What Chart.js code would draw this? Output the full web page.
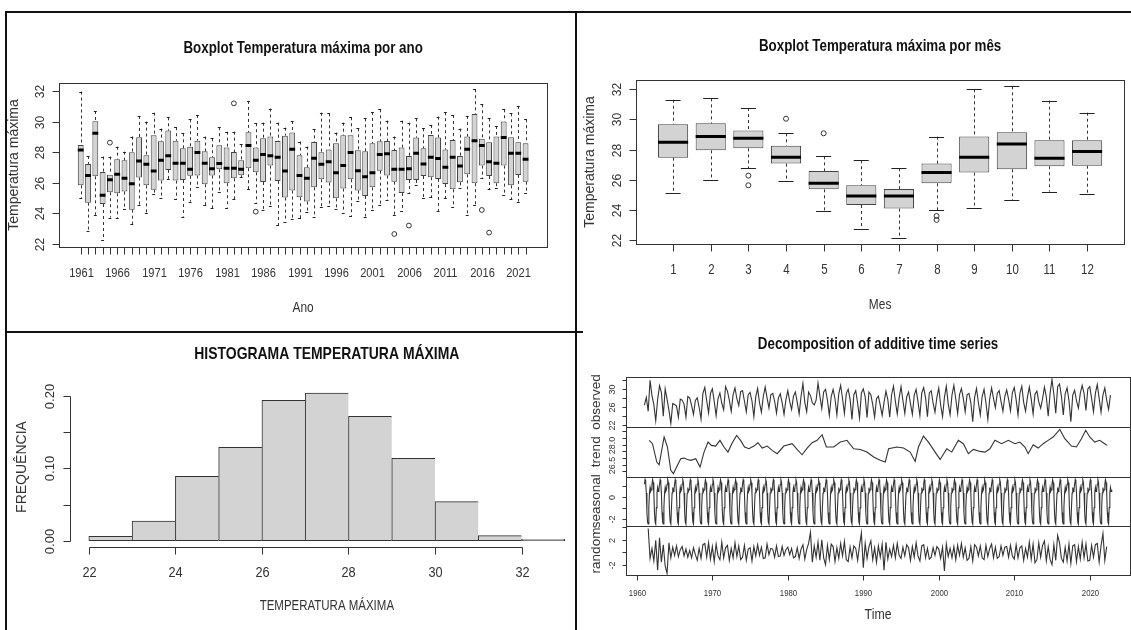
<!DOCTYPE html>
<html>
<head>
<meta charset="utf-8">
<script src="https://cdn.jsdelivr.net/npm/chart.js@4.4.1/dist/chart.umd.min.js"></script>
<style>
  html, body { margin: 0; padding: 0; background: #fff; width: 1131px; height: 630px; overflow: hidden; }
  canvas { position: absolute; }
  .rule { position: absolute; background: #111; z-index: 5; }
</style>
</head>
<body>
<canvas id="yearChart" width="576" height="332" style="left:0;top:0"></canvas>
<canvas id="monthChart" width="553" height="332" style="left:578px;top:0"></canvas>
<canvas id="histChart" width="600" height="298" style="left:0;top:332px"></canvas>
<canvas id="obsChart" width="560" height="298" style="left:578px;top:332px"></canvas>
<canvas id="trendChart" width="560" height="298" style="left:578px;top:332px"></canvas>
<canvas id="seasChart" width="560" height="298" style="left:578px;top:332px"></canvas>
<canvas id="randChart" width="560" height="298" style="left:578px;top:332px"></canvas>

<div class="rule" style="left:5px;top:11px;width:1126px;height:2px"></div>
<div class="rule" style="left:5px;top:11px;width:2px;height:619px"></div>
<div class="rule" style="left:575px;top:11px;width:2px;height:619px"></div>
<div class="rule" style="left:5px;top:331px;width:578px;height:2px"></div>

<script>
// ---- yearly boxplot (monthly max temperature by year) ----
const years = [1961, 1962, 1963, 1964, 1965, 1966, 1967, 1968, 1969, 1970,
  1971, 1972, 1973, 1974, 1975, 1976, 1977, 1978, 1979, 1980,
  1981, 1982, 1983, 1984, 1985, 1986, 1987, 1988, 1989, 1990,
  1991, 1992, 1993, 1994, 1995, 1996, 1997, 1998, 1999, 2000,
  2001, 2002, 2003, 2004, 2005, 2006, 2007, 2008, 2009, 2010,
  2011, 2012, 2013, 2014, 2015, 2016, 2017, 2018, 2019, 2020,
  2021, 2022];
const yearMax = [31.96, 27.75, 30.69, 27.71, 27.71, 28.36, 28.03, 29.02, 30.37, 30.00,
  30.58, 29.54, 30.28, 29.63, 29.23, 30.15, 30.43, 29.02, 28.91, 29.63,
  29.34, 29.34, 28.51, 31.35, 29.89, 29.93, 30.85, 29.93, 29.60, 30.04,
  28.69, 28.36, 29.49, 30.58, 30.54, 29.28, 29.93, 30.28, 29.56, 30.21,
  30.63, 30.80, 30.06, 29.02, 30.06, 29.93, 30.21, 29.56, 29.78, 30.32,
  30.61, 30.43, 29.54, 30.37, 32.11, 31.13, 30.21, 29.71, 30.80, 30.54,
  31.02, 30.15];
const yearQ3 = [28.47, 27.23, 30.02, 26.71, 26.53, 27.53, 27.47, 27.99, 28.97, 27.80,
  29.10, 28.71, 29.41, 28.75, 28.25, 28.36, 28.75, 28.06, 27.66, 28.45,
  28.30, 28.01, 27.47, 29.30, 28.30, 28.91, 29.02, 28.73, 29.08, 29.28,
  27.80, 27.01, 28.67, 27.99, 28.17, 28.58, 29.10, 29.10, 28.12, 28.06,
  28.58, 28.71, 28.73, 28.14, 28.30, 27.75, 28.95, 28.25, 29.12, 28.95,
  28.17, 28.80, 27.75, 29.02, 30.50, 28.88, 28.64, 29.02, 30.00, 28.97,
  28.64, 28.58];
const yearMedian = [28.14, 26.47, 29.23, 25.18, 26.20, 26.55, 26.29, 25.94, 27.42, 27.21,
  26.77, 27.47, 27.77, 27.27, 27.27, 26.88, 27.97, 27.27, 26.92, 27.25,
  26.95, 26.95, 26.88, 28.43, 27.47, 27.84, 27.77, 27.66, 26.77, 28.19,
  26.47, 26.29, 27.60, 27.21, 27.38, 26.66, 27.12, 27.97, 26.79, 26.40,
  26.66, 27.84, 27.90, 26.88, 26.88, 26.92, 27.93, 27.23, 27.66, 27.58,
  27.01, 27.66, 27.10, 28.19, 28.75, 28.43, 27.38, 27.27, 28.95, 27.93,
  27.93, 27.53];
const yearQ1 = [25.83, 24.70, 26.42, 24.61, 25.38, 25.31, 25.42, 24.24, 26.34, 25.83,
  25.55, 26.14, 26.84, 26.14, 26.18, 26.45, 26.47, 25.90, 26.47, 26.88,
  25.97, 26.29, 26.49, 26.95, 26.68, 26.05, 27.12, 26.12, 25.03, 25.49,
  25.05, 24.77, 25.70, 26.23, 26.01, 24.98, 25.62, 26.23, 25.49, 25.14,
  25.70, 26.79, 26.47, 26.07, 25.33, 26.18, 26.18, 26.44, 26.36, 26.25,
  25.92, 25.57, 26.03, 26.55, 25.97, 27.12, 26.44, 25.97, 27.12, 25.83,
  26.51, 26.07];
const yearMin = [24.98, 22.85, 23.90, 22.24, 23.72, 23.68, 24.31, 23.31, 24.55, 24.00,
  25.25, 24.98, 26.23, 24.94, 23.79, 24.77, 25.70, 24.55, 24.33, 25.38,
  24.37, 24.92, 26.36, 25.59, 24.70, 24.22, 24.51, 23.24, 23.46, 23.61,
  23.68, 24.11, 23.74, 24.44, 24.48, 24.31, 24.05, 23.83, 24.83, 23.79,
  24.22, 24.53, 24.88, 23.90, 24.16, 25.36, 25.83, 24.98, 25.05, 24.16,
  24.98, 24.40, 25.68, 23.90, 24.55, 26.29, 25.59, 25.68, 25.20, 24.92,
  24.77, 25.36];
const yearOutlierYears = [1965, 1982, 1985, 2004, 2006, 2016, 2017];
const yearOutlierValues = [28.62, 31.19, 24.11, 22.65, 23.20, 24.22, 22.74];

// ---- monthly boxplot ----
const months = [1, 2, 3, 4, 5, 6, 7, 8, 9, 10, 11, 12];
const monthMax = [31.31, 31.40, 30.76, 29.08, 27.55, 27.29, 26.76, 28.86, 32.00, 32.20, 31.25, 30.45];
const monthQ3 = [29.68, 29.74, 29.26, 28.26, 26.58, 25.63, 25.38, 27.07, 28.86, 29.15, 28.62, 28.62];
const monthMedian = [28.48, 28.86, 28.75, 27.49, 25.76, 24.92, 24.92, 26.47, 27.49, 28.37, 27.42, 27.88];
const monthQ1 = [27.46, 27.95, 28.08, 27.07, 25.36, 24.32, 24.08, 25.76, 26.47, 26.69, 26.89, 26.93];
const monthMin = [25.10, 25.98, 26.76, 25.92, 23.95, 22.75, 22.15, 23.99, 24.15, 24.65, 25.21, 25.03];
const monthOutlierMonths = [3, 3, 4, 5, 8, 8];
const monthOutlierValues = [26.27, 25.63, 30.05, 29.08, 23.59, 23.33];

const tempTicks = [22, 24, 26, 28, 30, 32];

// ---- histogram (density per 1 degree bin) ----
const histBreaks = [22, 23, 24, 25, 26, 27, 28, 29, 30, 31, 32, 33];
const histDensity = [0.006, 0.027, 0.089, 0.129, 0.194, 0.204, 0.172, 0.114, 0.054, 0.007, 0.002];
const histXTicks = [22, 24, 26, 28, 30, 32];
const histYTicks = [0, 0.05, 0.10, 0.15, 0.20];

// ---- decomposition: observed, read at Jan / Apr / Jul / Oct of each year ----
const obsJan = [26.4, 28.5, 30.7, 27.7, 26.5, 27.5, 28.0, 28.0, 30.3, 30.0,
  29.1, 29.5, 30.2, 29.6, 29.2, 30.1, 30.4, 29.0, 28.9, 29.6,
  29.3, 31.2, 28.5, 31.3, 29.9, 29.9, 30.8, 29.9, 29.6, 30.0,
  28.7, 28.4, 29.5, 30.6, 30.5, 29.3, 29.9, 30.3, 29.6, 30.2,
  30.6, 30.8, 30.1, 29.0, 30.1, 29.9, 30.2, 29.6, 29.8, 30.3,
  30.6, 30.4, 29.5, 30.4, 32.1, 31.1, 30.2, 29.7, 30.8, 30.5,
  31.0, 30.2];
const obsApr = [28.1, 26.5, 29.2, 25.2, 26.2, 26.6, 26.3, 25.9, 27.4, 27.2,
  26.8, 27.5, 27.8, 27.3, 27.3, 26.9, 28.0, 27.3, 26.9, 27.2,
  27.0, 27.0, 26.9, 28.4, 27.5, 27.8, 27.8, 27.7, 26.8, 28.2,
  26.5, 26.3, 27.6, 27.2, 27.4, 26.7, 27.1, 28.0, 26.8, 26.4,
  26.7, 27.8, 27.9, 26.9, 26.9, 26.9, 27.9, 27.2, 27.7, 27.6,
  27.0, 27.7, 27.1, 28.2, 28.8, 28.4, 27.4, 27.3, 29.0, 27.9,
  27.9, 27.5];
const obsJul = [25.0, 22.9, 23.9, 22.3, 23.7, 23.7, 24.3, 23.3, 24.6, 24.0,
  25.3, 25.0, 26.3, 24.9, 23.8, 24.8, 25.7, 24.6, 24.3, 25.4,
  24.4, 24.9, 26.4, 25.6, 24.1, 24.2, 24.5, 23.2, 23.5, 23.6,
  23.7, 24.1, 23.7, 24.4, 24.5, 24.3, 24.0, 23.8, 24.8, 23.8,
  24.2, 24.5, 24.9, 22.7, 24.2, 23.2, 25.8, 25.0, 25.1, 24.2,
  25.0, 24.4, 25.7, 23.9, 24.6, 24.2, 22.7, 25.7, 25.2, 24.9,
  24.8, 25.4];
const obsOct = [31.9, 27.6, 30.0, 26.7, 27.7, 28.3, 27.4, 29.0, 29.0, 27.8,
  30.5, 28.7, 29.4, 28.7, 28.2, 28.3, 28.7, 28.0, 27.6, 28.4,
  28.3, 29.3, 27.5, 29.3, 28.3, 28.9, 29.0, 28.7, 29.1, 29.3,
  27.8, 27.0, 28.7, 28.0, 28.2, 28.6, 29.1, 29.1, 28.1, 28.1,
  28.6, 28.7, 28.7, 28.1, 28.3, 27.8, 29.0, 28.3, 29.1, 29.0,
  28.2, 28.8, 27.8, 29.0, 30.5, 28.9, 28.6, 29.0, 30.0, 29.0,
  28.6, 28.6];

// trend (moving average), read as time / value pairs
const trendTime = [1961.63, 1962.07, 1962.64, 1962.95, 1963.61, 1964.05, 1964.49, 1964.85, 1965.15, 1965.81,
  1966.26, 1966.70, 1967.14, 1967.80, 1968.37, 1968.90, 1969.43, 1969.87, 1970.44, 1971.01,
  1971.54, 1972.07, 1972.64, 1973.22, 1973.74, 1974.27, 1974.85, 1975.51, 1976.04, 1976.61,
  1977.27, 1977.93, 1978.59, 1979.47, 1980.57, 1981.23, 1981.89, 1982.56, 1983.22, 1983.88,
  1984.54, 1985.11, 1986.08, 1986.96, 1987.84, 1988.72, 1989.60, 1990.48, 1991.37, 1992.25,
  1992.91, 1993.35, 1994.45, 1995.33, 1996.21, 1996.87, 1997.31, 1997.97, 1998.63, 1999.52,
  2000.18, 2001.06, 2001.72, 2002.60, 2003.26, 2003.92, 2004.58, 2005.46, 2006.12, 2006.78,
  2007.44, 2008.33, 2009.21, 2010.09, 2010.75, 2011.41, 2011.85, 2012.51, 2013.17, 2013.83,
  2014.49, 2015.15, 2016.04, 2016.70, 2017.58, 2018.24, 2018.90, 2019.47, 2020.00, 2020.66,
  2021.32, 2021.98, 2022.33];
const trendValue = [28.33, 28.08, 26.70, 26.50, 28.58, 27.83, 26.08, 25.83, 26.20, 26.95,
  27.00, 26.90, 26.83, 26.95, 26.33, 27.45, 28.20, 27.95, 27.90, 28.33,
  27.83, 27.45, 28.15, 28.70, 28.33, 27.83, 27.70, 27.90, 28.15, 27.75,
  27.90, 27.58, 27.33, 27.90, 28.08, 27.65, 27.25, 27.75, 28.15, 28.33,
  28.75, 27.83, 27.83, 28.20, 28.33, 27.70, 27.65, 27.45, 27.08, 26.83,
  26.70, 27.70, 27.83, 27.75, 27.45, 26.75, 27.83, 28.65, 28.20, 27.45,
  26.90, 27.70, 27.45, 28.33, 28.08, 27.33, 27.65, 27.50, 27.45, 27.70,
  28.33, 28.08, 28.33, 28.08, 28.20, 27.83, 27.33, 28.00, 27.75, 28.08,
  28.33, 28.58, 29.15, 28.45, 27.90, 27.83, 28.45, 29.08, 28.58, 28.20,
  28.33, 28.08, 27.95];

// seasonal figure, Jan..Dec (the same every year)
const seasonalFigure = [1.2, 1.62, 1.35, 0.4, -1.4, -2.3, -2.47, -0.95, 0.4, 0.9, 0.55, 0.7];

// random component, read at Jan / Apr / Jul / Oct (null where undefined)
const randJan = [null, 0.6, 2.3, -3.4, -0.5, 0.9, 0.3, -1.3, 1.4, 0.9,
  -1.2, 1.1, 1.5, -0.8, 0.7, 1.2, -0.9, 0.5, -0.6, 0.8,
  -0.7, 1.2, 3.2, 1.6, -2.0, 0.9, 1.4, -1.5, 0.6, -2.5,
  1.8, 1.0, 1.6, 1.1, -1.0, 0.7, 1.5, 1.2, -0.8, 0.5,
  1.3, 0.9, 1.4, -1.0, 0.8, -1.2, 1.3, -0.7, 0.9, -1.1,
  1.0, 1.6, -1.2, 1.8, -2.0, 1.5, -1.4, 1.2, 1.6, -1.3,
  1.4, -1.3];
const randApr = [null, -1.4, -1.6, 1.5, 1.0, -0.6, -0.9, 0.6, -0.8, -1.5,
  1.6, -1.3, -0.7, 1.1, -1.4, -0.5, 1.3, -0.8, 0.9, -0.4,
  0.7, -1.1, -1.6, -1.3, 1.1, -1.5, -0.6, 0.8, -1.3, 1.4,
  -1.2, -0.8, -1.1, -0.9, 0.8, -1.3, -0.6, -0.9, 0.7, -1.0,
  -0.7, -1.2, -0.8, 0.9, -0.6, 1.1, -0.9, 1.0, -0.8, 1.2,
  -1.3, -1.1, 1.5, -1.4, 1.2, -1.0, 1.3, -1.5, -0.9, 1.1,
  -1.6, 0.9];
const randJul = [3.8, 1.9, 1.2, -0.9, -0.7, 0.5, 0.7, -1.0, 1.5, 1.3,
  -0.9, 0.6, 1.0, -1.3, 0.9, 0.8, -0.4, 1.0, -0.5, 0.6,
  -1.0, 0.4, 1.0, 2.0, -1.2, 0.7, 1.7, -0.9, 1.1, -1.0,
  0.7, 1.3, 0.5, 1.4, -0.6, 0.9, -1.4, 0.6, -0.5, 0.8,
  0.6, 1.1, 0.7, -1.4, 1.0, -0.7, 0.8, -0.5, 1.1, -0.9,
  0.6, 1.3, -0.8, 0.9, -1.3, -1.6, -1.8, 0.9, 1.3, -0.8,
  1.0, null];
const randOct = [-1.0, -2.9, -2.2, 0.8, 0.4, -0.8, -0.4, 1.2, -1.1, -0.6,
  0.7, -0.9, -1.2, 0.5, -0.6, -1.0, 0.6, -0.7, 0.4, -0.9,
  0.5, 1.4, -0.8, -0.9, 1.3, -1.0, -1.2, 1.0, 3.1, 0.9,
  -1.6, -2.9, -0.7, -0.5, 1.2, -0.8, 1.0, -1.1, 0.9, -3.0,
  -0.9, -0.5, -1.3, 1.2, -0.9, 0.6, -1.0, 0.8, -0.6, 0.7,
  -0.8, -1.7, 1.1, -1.2, 2.7, 0.8, 1.0, -1.1, -1.4, 1.2,
  3.0, null];
const decadeTicks = [1960, 1970, 1980, 1990, 2000, 2010, 2020];

// ---- drawing helpers ----
const INK = '#333';
const SANS = '"Liberation Sans", Arial, sans-serif';
const SQUEEZE = 0.82;   // the reference text is horizontally condensed

// horizontal text, condensed
function hText(ctx, text, x, y) {
  ctx.save();
  ctx.translate(x, y);
  ctx.scale(SQUEEZE, 1);
  ctx.textAlign = 'center';
  ctx.textBaseline = 'middle';
  ctx.fillText(text, 0, 0);
  ctx.restore();
}

function rotText(ctx, text, x, y) {
  ctx.save();
  ctx.translate(x, y);
  ctx.rotate(-Math.PI / 2);
  ctx.textAlign = 'center';
  ctx.textBaseline = 'middle';
  ctx.fillText(text, 0, 0);
  ctx.restore();
}

// R-like axes, frame and titles, placed with the chart's own scales
function rFrame(id, cfg) {
  return {
    id: id,
    afterDraw(chart) {
      const ctx = chart.ctx;
      const area = chart.chartArea;
      const xs = chart.scales.x;
      const ys = chart.scales.y;
      const cx = (area.left + area.right) / 2;
      const cy = (area.top + area.bottom) / 2;
      ctx.save();
      ctx.strokeStyle = INK;
      ctx.fillStyle = INK;
      ctx.lineWidth = 1;
      if (cfg.box) {
        const l = Math.round(area.left), t = Math.round(area.top);
        ctx.strokeRect(l + 0.5, t + 0.5, Math.round(area.right) - l, Math.round(area.bottom) - t);
      }
      if (cfg.xTicks) {
        const y0 = Math.round(area.bottom) + 0.5;
        const px = cfg.xTicks.map(v => Math.round(xs.getPixelForValue(v)) + 0.5);
        ctx.beginPath();
        if (cfg.axisLines) { ctx.moveTo(px[0], y0); ctx.lineTo(px[px.length - 1], y0); }
        px.forEach(p => { ctx.moveTo(p, y0); ctx.lineTo(p, y0 + cfg.xTickLen); });
        ctx.stroke();
        ctx.font = cfg.xFont;
        cfg.xLabels.forEach((t, i) => { if (t) hText(ctx, t, px[i], area.bottom + cfg.xLabelDy); });
      }
      if (cfg.yTicks) {
        const x0 = Math.round(area.left) + 0.5;
        const py = cfg.yTicks.map(v => Math.round(ys.getPixelForValue(v)) + 0.5);
        ctx.beginPath();
        if (cfg.axisLines) { ctx.moveTo(x0, py[0]); ctx.lineTo(x0, py[py.length - 1]); }
        py.forEach(p => { ctx.moveTo(x0, p); ctx.lineTo(x0 - cfg.yTickLen, p); });
        ctx.stroke();
        ctx.font = cfg.yFont;
        cfg.yLabels.forEach((t, i) => { if (t) rotText(ctx, t, area.left + cfg.yLabelDx, py[i]); });
      }
      if (cfg.title) {
        ctx.fillStyle = '#111';
        ctx.font = cfg.titleFont;
        hText(ctx, cfg.title, cx, area.top + cfg.titleDy);
        ctx.fillStyle = INK;
      }
      if (cfg.xTitle) {
        ctx.font = cfg.xTitleFont;
        hText(ctx, cfg.xTitle, cx, area.bottom + cfg.xTitleDy);
      }
      if (cfg.yTitle) {
        ctx.font = cfg.yTitleFont;
        rotText(ctx, cfg.yTitle, area.left + cfg.yTitleDx, cy);
      }
      ctx.restore();
    }
  };
}

// whiskers (dashed), staples and medians of a boxplot
function boxParts(id, pos, lo, med, hi, q1, q3) {
  return {
    id: id,
    beforeDatasetsDraw(chart) {
      const ctx = chart.ctx, xs = chart.scales.x, ys = chart.scales.y;
      ctx.save();
      ctx.strokeStyle = INK;
      ctx.lineWidth = 1;
      ctx.setLineDash([3, 3]);
      ctx.beginPath();
      pos.forEach((p, i) => {
        const x = Math.round(xs.getPixelForValue(p)) + 0.5;
        ctx.moveTo(x, ys.getPixelForValue(hi[i]));
        ctx.lineTo(x, ys.getPixelForValue(q3[i]));
        ctx.moveTo(x, ys.getPixelForValue(q1[i]));
        ctx.lineTo(x, ys.getPixelForValue(lo[i]));
      });
      ctx.stroke();
      ctx.restore();
    },
    afterDatasetsDraw(chart) {
      const ctx = chart.ctx, ys = chart.scales.y;
      const bars = chart.getDatasetMeta(0).data;
      ctx.save();
      ctx.strokeStyle = '#222';
      ctx.lineWidth = 1;
      ctx.beginPath();
      bars.forEach((bar, i) => {
        const q = bar.width / 4;
        const yh = Math.round(ys.getPixelForValue(hi[i])) + 0.5;
        const yl = Math.round(ys.getPixelForValue(lo[i])) + 0.5;
        ctx.moveTo(bar.x - q, yh); ctx.lineTo(bar.x + q, yh);
        ctx.moveTo(bar.x - q, yl); ctx.lineTo(bar.x + q, yl);
      });
      ctx.stroke();
      ctx.strokeStyle = '#000';
      ctx.lineWidth = 3;
      ctx.beginPath();
      bars.forEach((bar, i) => {
        const y = ys.getPixelForValue(med[i]);
        ctx.moveTo(bar.x - bar.width / 2, y);
        ctx.lineTo(bar.x + bar.width / 2, y);
      });
      ctx.stroke();
      ctx.restore();
    }
  };
}

function baseOptions(pad, xRange, yRange) {
  return {
    responsive: false,
    animation: false,
    devicePixelRatio: 1,
    events: [],
    layout: { padding: pad },
    plugins: { legend: { display: false }, tooltip: { enabled: false } },
    scales: {
      x: { type: 'linear', display: false, offset: false, min: xRange[0], max: xRange[1], ticks: { includeBounds: false } },
      y: { type: 'linear', display: false, min: yRange[0], max: yRange[1], ticks: { includeBounds: false } }
    }
  };
}

function boxChart(canvasId, pos, lo, q1, med, q3, hi, outPos, outVal, pad, xRange, yRange, frame, outRadius) {
  new Chart(document.getElementById(canvasId), {
    type: 'bar',
    data: {
      datasets: [{
        data: pos.map((p, i) => ({ x: p, y: [q1[i], q3[i]] })),
        backgroundColor: '#d3d3d3',
        borderColor: '#444',
        borderWidth: 1,
        borderSkipped: false,
        categoryPercentage: 0.8,
        barPercentage: 1
      }, {
        type: 'scatter',
        data: outPos.map((p, i) => ({ x: p, y: outVal[i] })),
        pointStyle: 'circle',
        pointRadius: outRadius,
        pointBackgroundColor: 'rgba(0,0,0,0)',
        pointBorderColor: INK,
        pointBorderWidth: 1
      }]
    },
    options: baseOptions(pad, xRange, yRange),
    plugins: [boxParts(canvasId + 'Box', pos, lo, med, hi, q1, q3), rFrame(canvasId + 'Frame', frame)]
  });
}

// yearly boxplot
const yearPos = years.map((y, i) => i + 1);
boxChart('yearChart', yearPos, yearMin, yearQ1, yearMedian, yearQ3, yearMax,
  yearOutlierYears.map(y => years.indexOf(y) + 1), yearOutlierValues,
  { left: 59, top: 82.7, right: 28.7, bottom: 84.7 }, [-1.98, 64.98], [21.78, 32.54],
  {
    box: true,
    xTicks: yearPos, xLabels: years.map((y, i) => (i % 5 === 0 ? String(y) : '')),
    xTickLen: 7, xLabelDy: 26, xFont: '13.5px ' + SANS,
    yTicks: tempTicks, yLabels: tempTicks.map(String), yTickLen: 7, yLabelDx: -18.3, yFont: '12px ' + SANS,
    title: 'Boxplot Temperatura máxima por ano', titleDy: -33.7, titleFont: 'bold 16.3px ' + SANS,
    xTitle: 'Ano', xTitleDy: 60.7, xTitleFont: '14.5px ' + SANS,
    yTitle: 'Temperatura máxima', yTitleDx: -45, yTitleFont: '14px ' + SANS
  }, 2.4);

// monthly boxplot
boxChart('monthChart', months, monthMin, monthQ1, monthMedian, monthQ3, monthMax,
  monthOutlierMonths, monthOutlierValues,
  { left: 58.2, top: 80, right: 7, bottom: 88 }, [0.02, 12.98], [21.73, 32.62],
  {
    box: true,
    xTicks: months, xLabels: months.map(String), xTickLen: 7, xLabelDy: 26, xFont: '14px ' + SANS,
    yTicks: tempTicks, yLabels: tempTicks.map(String), yTickLen: 7, yLabelDx: -19, yFont: '12px ' + SANS,
    title: 'Boxplot Temperatura máxima por mês', titleDy: -33.3, titleFont: 'bold 16.3px ' + SANS,
    xTitle: 'Mes', xTitleDy: 61, xTitleFont: '14.5px ' + SANS,
    yTitle: 'Temperatura máxima', yTitleDx: -45.7, yTitleFont: '14px ' + SANS
  }, 2.5);

// histogram
new Chart(document.getElementById('histChart'), {
  type: 'bar',
  data: {
    datasets: [{
      data: histDensity.map((d, i) => ({ x: (histBreaks[i] + histBreaks[i + 1]) / 2, y: d })),
      backgroundColor: '#d3d3d3',
      borderColor: '#333',
      borderSkipped: false,
      borderWidth: c => ({ top: 1, left: 1, bottom: 1, right: c.dataIndex === histDensity.length - 1 ? 1 : 0 }),
      categoryPercentage: 1,
      barPercentage: 1
    }]
  },
  options: baseOptions({ left: 69.8, top: 55.4, right: 16.1, bottom: 83.4 }, [21.56, 33.44], [-0.0082, 0.2119]),
  plugins: [rFrame('histFrame', {
    axisLines: true,
    xTicks: histXTicks, xLabels: histXTicks.map(String), xTickLen: 7, xLabelDy: 25.7, xFont: '15.5px ' + SANS,
    yTicks: histYTicks, yLabels: ['0.00', '', '0.10', '', '0.20'], yTickLen: 7, yLabelDx: -19.8, yFont: '13px ' + SANS,
    title: 'HISTOGRAMA TEMPERATURA MÁXIMA', titleDy: -33.4, titleFont: 'bold 17px ' + SANS,
    xTitle: 'TEMPERATURA MÁXIMA', xTitleDy: 59.4, xTitleFont: '14px ' + SANS,
    yTitle: 'FREQUÊNCIA', yTitleDx: -47.8, yTitleFont: '14px ' + SANS
  })]
});

// decomposition panels
const obsPoints = [];
const randPoints = [];
const seasPoints = [];
years.forEach((yr, i) => {
  obsPoints.push({ x: yr, y: obsJan[i] }, { x: yr + 0.25, y: obsApr[i] }, { x: yr + 0.5, y: obsJul[i] }, { x: yr + 0.75, y: obsOct[i] });
  [randJan[i], randApr[i], randJul[i], randOct[i]].forEach((v, k) => {
    if (v !== null) randPoints.push({ x: yr + k * 0.25, y: v });
  });
  seasonalFigure.forEach((v, m) => seasPoints.push({ x: yr + m / 12, y: v }));
});
const trendPoints = trendTime.map((t, i) => ({ x: t, y: trendValue[i] }));

const decompX = [1958.52, 2025.39];
function decompPanel(canvasId, points, pad, yRange, frame) {
  new Chart(document.getElementById(canvasId), {
    type: 'line',
    data: {
      datasets: [{
        data: points,
        borderColor: '#333',
        borderWidth: 1.1,
        pointRadius: 0,
        tension: 0,
        fill: false
      }]
    },
    options: baseOptions(pad, decompX, yRange),
    plugins: [rFrame(canvasId + 'Frame', frame)]
  });
}
const panelText = { yTickLen: 4, yLabelDx: -12.7, yFont: '9px ' + SANS, yTitleDx: -29.7, yTitleFont: '13.5px ' + SANS, box: true };

decompPanel('obsChart', obsPoints, { left: 47.7, right: 7.6, top: 45, bottom: 203 }, [21.5, 32.65],
  Object.assign({}, panelText, {
    yTicks: [22, 24, 26, 28, 30, 32], yLabels: ['22', '', '26', '', '30', ''], yTitle: 'observed',
    title: 'Decomposition of additive time series', titleDy: -32, titleFont: 'bold 16.3px ' + SANS
  }));
decompPanel('trendChart', trendPoints, { left: 47.7, right: 7.6, top: 95, bottom: 153.5 }, [25.62, 29.33],
  Object.assign({}, panelText, {
    yTicks: [26, 26.5, 27, 27.5, 28, 28.5, 29], yLabels: ['', '26.5', '', '', '28.0', '', ''], yTitle: 'trend'
  }));
decompPanel('seasChart', seasPoints, { left: 47.7, right: 7.6, top: 144.5, bottom: 104 }, [-2.65, 1.92],
  Object.assign({}, panelText, {
    yTicks: [-2, -1, 0, 1], yLabels: ['-2', '', '0', ''], yTitle: 'seasonal'
  }));
decompPanel('randChart', randPoints, { left: 47.7, right: 7.6, top: 194, bottom: 55 }, [-3.65, 4.19],
  Object.assign({}, panelText, {
    yTicks: [-2, 0, 2, 4], yLabels: ['-2', '', '2', ''], yTitle: 'random',
    xTicks: decadeTicks, xLabels: decadeTicks.map(String), xTickLen: 5, xLabelDy: 18.3, xFont: '9.5px ' + SANS,
    xTitle: 'Time', xTitleDy: 40, xTitleFont: '15px ' + SANS
  }));
</script>
</body>
</html>
